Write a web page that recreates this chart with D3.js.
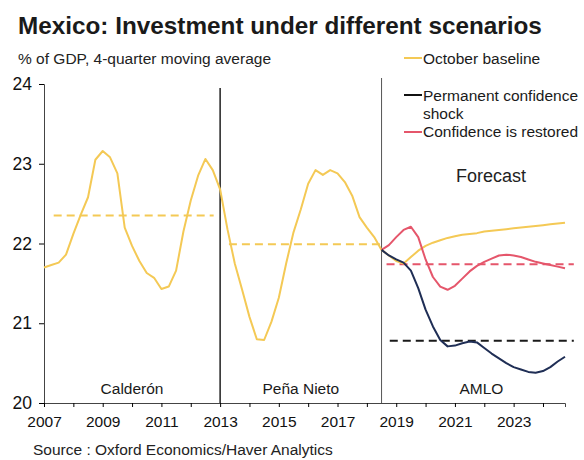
<!DOCTYPE html>
<html>
<head>
<meta charset="utf-8">
<script src="https://cdn.jsdelivr.net/npm/d3@7"></script>
<style>
  body { margin: 0; background: #fff; }
  svg { font-family: "Liberation Sans", Arial, sans-serif; }
</style>
</head>
<body>
<svg width="584" height="460"></svg>
<script>
// quarterly series, % of GDP
const baselineStart = 2007;
const baseline = [
  21.70, 21.73, 21.76, 21.86, 22.12, 22.36, 22.58, 23.05, 23.16, 23.08, 22.88, 22.20,
  21.97, 21.78, 21.63, 21.57, 21.43, 21.46, 21.66, 22.15, 22.54, 22.85, 23.06, 22.92,
  22.68, 22.18, 21.75, 21.42, 21.08, 20.80, 20.79, 21.02, 21.32, 21.75, 22.14, 22.43,
  22.75, 22.92, 22.86, 22.92, 22.88, 22.77, 22.60, 22.33, 22.20, 22.08, 21.92, 21.85,
  21.78, 21.75, 21.83, 21.91, 21.97, 22.01, 22.04, 22.07, 22.09, 22.11, 22.12, 22.13,
  22.15, 22.16, 22.17, 22.18, 22.19, 22.20, 22.21, 22.22, 22.23, 22.24, 22.25, 22.26
];
const scenarioStart = 2018.5;
const permanentShock = [
  21.92, 21.85, 21.80, 21.76, 21.66, 21.44, 21.17, 20.96, 20.79, 20.71, 20.72, 20.75,
  20.77, 20.76, 20.69, 20.62, 20.56, 20.50, 20.45, 20.42, 20.39, 20.38, 20.40, 20.45,
  20.52, 20.58
];
const confidenceRestored = [
  21.92, 21.98, 22.08, 22.17, 22.21, 22.08, 21.80, 21.58, 21.46, 21.42, 21.47, 21.56,
  21.65, 21.72, 21.77, 21.81, 21.85, 21.86, 21.85, 21.83, 21.80, 21.77, 21.75, 21.73,
  21.71, 21.69
];

// period averages (dashed)
const avgSeries = ['baseline', 'baseline', 'restored', 'shock'];
const avgValues = [22.35, 21.99, 21.74, 20.78];
const avgFrom = [2007.33, 2013.3, 2018.67, 2018.78];
const avgTo = [2012.78, 2018.45, 2025.05, 2025.05];

const periodLabels = ['Calderón', 'Peña Nieto', 'AMLO'];
const periodCenters = [2010.0, 2015.75, 2021.9];
const dividers = [2013, 2018.5];

const yTicks = [20, 21, 22, 23, 24];
const xLabelYears = [2007, 2009, 2011, 2013, 2015, 2017, 2019, 2021, 2023];

const legendLabels = [['October baseline'], ['Permanent confidence', 'shock'], ['Confidence is restored']];
const legendKeys = ['baseline', 'shock', 'restored'];

const colors = { baseline: '#f4c955', shock: '#1f2e55', restored: '#e5566b' };
const avgColors = { baseline: '#f4c955', shock: '#1a1a1a', restored: '#e5566b' };

const svg = d3.select('svg');

const x = d3.scaleLinear().domain([2007, 2024.75]).range([44, 565]);
const y = d3.scaleLinear().domain([20, 24]).range([403, 84]);

// title block
svg.append('text').attr('x', 18).attr('y', 34)
  .attr('font-size', 24.3).attr('font-weight', 'bold').attr('fill', '#1a1a1a')
  .text('Mexico: Investment under different scenarios');
svg.append('text').attr('x', 18).attr('y', 64)
  .attr('font-size', 15.5).attr('fill', '#222')
  .text('% of GDP, 4-quarter moving average');

// axes
const yAxis = d3.axisLeft(y).tickValues(yTicks).tickSize(5).tickPadding(7).tickFormat(d3.format('d'));
const gy = svg.append('g').attr('transform', 'translate(44,0)').call(yAxis);
gy.select('.domain').attr('stroke', '#444');
gy.selectAll('text').attr('font-size', 17.5).attr('fill', '#111').attr('font-family', 'Liberation Sans, Arial, sans-serif');

const xAxis = d3.axisBottom(x).tickValues(d3.range(2007, 2025)).tickSize(4).tickPadding(9)
  .tickFormat(d => xLabelYears.includes(d) ? d : '');
const gx = svg.append('g').attr('transform', 'translate(0,403)').call(xAxis);
gx.select('.domain').attr('stroke', '#444');
gx.selectAll('text').attr('font-size', 15.5).attr('fill', '#111').attr('font-family', 'Liberation Sans, Arial, sans-serif');

// dividers
svg.selectAll('.divider').data(dividers).enter().append('line')
  .attr('x1', d => x(d)).attr('x2', d => x(d))
  .attr('y1', (d, i) => i === 0 ? 88 : 78).attr('y2', 403)
  .attr('stroke', (d, i) => i === 0 ? '#111' : '#555')
  .attr('stroke-width', (d, i) => i === 0 ? 1.4 : 1);

// period labels
svg.selectAll('.period').data(periodLabels).enter().append('text')
  .attr('x', (d, i) => x(periodCenters[i])).attr('y', 394)
  .attr('text-anchor', 'middle').attr('font-size', 15.5).attr('fill', '#1a1a1a')
  .text(d => d);

svg.append('text').attr('x', 491).attr('y', 182).attr('text-anchor', 'middle')
  .attr('font-size', 18).attr('fill', '#222').text('Forecast');

// dashed averages
svg.selectAll('.avg').data(avgValues).enter().append('line')
  .attr('x1', (d, i) => x(avgFrom[i])).attr('x2', (d, i) => x(avgTo[i]))
  .attr('y1', d => y(d)).attr('y2', d => y(d))
  .attr('stroke', (d, i) => avgColors[avgSeries[i]])
  .attr('stroke-width', 2).attr('stroke-dasharray', '8,5');

// lines
const line = start => d3.line()
  .x((d, i) => x(start + i * 0.25))
  .y(d => y(d));

const series = [
  { key: 'baseline', start: baselineStart, values: baseline },
  { key: 'restored', start: scenarioStart, values: confidenceRestored },
  { key: 'shock', start: scenarioStart, values: permanentShock }
];
svg.selectAll('.series').data(series).enter().append('path')
  .attr('d', d => line(d.start)(d.values))
  .attr('fill', 'none').attr('stroke', d => colors[d.key])
  .attr('stroke-width', 2).attr('stroke-linejoin', 'round');

// legend
const legendLineY = [58, 95, 132];
const legendTextY = [64, 101, 137];
legendKeys.forEach((k, i) => {
  svg.append('line').attr('x1', 404).attr('x2', 422)
    .attr('y1', legendLineY[i]).attr('y2', legendLineY[i])
    .attr('stroke', k === 'shock' ? '#111' : colors[k]).attr('stroke-width', 2);
  legendLabels[i].forEach((t, j) => {
    svg.append('text').attr('x', 423).attr('y', legendTextY[i] + j * 17.5)
      .attr('font-size', 15.5).attr('fill', '#1a1a1a').text(t);
  });
});

// source
svg.append('text').attr('x', 33).attr('y', 455)
  .attr('font-size', 15.5).attr('fill', '#222')
  .text('Source : Oxford Economics/Haver Analytics');
</script>
</body>
</html>
